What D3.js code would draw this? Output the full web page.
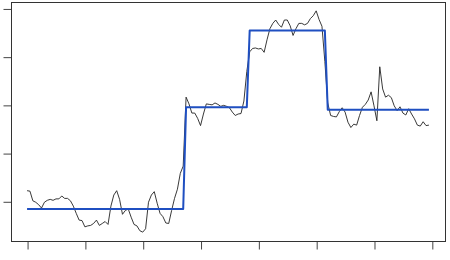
<!DOCTYPE html>
<html>
<head>
<meta charset="utf-8">
<script src="https://cdn.jsdelivr.net/npm/d3@7"></script>
<style>
  body { margin: 0; background: #fff; }
</style>
</head>
<body>
<div id="chart"></div>
<script>
// noisy signal, one value per time step (0..139)
const signal = [
  0.22, 0.21, 0.01, -0.02, -0.07, -0.14, -0.02, 0.02, 0.04, 0.02,
  0.05, 0.05, 0.11, 0.06, 0.06, 0.01, -0.10, -0.25, -0.39, -0.40,
  -0.53, -0.51, -0.50, -0.46, -0.39, -0.50, -0.46, -0.42, -0.48, -0.10,
  0.13, 0.22, 0.04, -0.27, -0.19, -0.16, -0.33, -0.48, -0.51, -0.61,
  -0.64, -0.57, -0.02, 0.13, 0.20, -0.04, -0.25, -0.32, -0.45, -0.46,
  -0.19, 0.06, 0.25, 0.58, 0.73, 2.16, 2.02, 1.83, 1.83, 1.72,
  1.57, 1.81, 2.02, 2.01, 2.00, 2.04, 2.01, 1.97, 1.99, 1.97,
  1.94, 1.85, 1.78, 1.81, 1.82, 2.08, 2.69, 3.10, 3.17, 3.18,
  3.16, 3.17, 3.09, 3.35, 3.58, 3.69, 3.76, 3.67, 3.61, 3.76,
  3.76, 3.64, 3.44, 3.58, 3.69, 3.69, 3.66, 3.69, 3.79, 3.85,
  3.95, 3.77, 3.63, 2.90, 2.04, 1.78, 1.76, 1.75, 1.86, 1.94,
  1.85, 1.64, 1.53, 1.60, 1.58, 1.78, 1.95, 2.01, 2.10, 2.27,
  1.98, 1.67, 2.79, 2.33, 2.16, 2.20, 2.15, 1.98, 1.88, 1.96,
  1.83, 1.79, 1.92, 1.81, 1.71, 1.58, 1.56, 1.65, 1.57, 1.58
];

// piecewise constant fit: first index of each segment and its mean
const segStarts = [0, 55, 77, 104];
const segMeans = [-0.16, 1.95, 3.54, 1.90];

const xTicks = [0, 20, 40, 60, 80, 100, 120, 140];
const yTicks = [0, 1, 2, 3, 4];

const width = 450, height = 260;
// plot region (R style box)
const plot = {left: 11, right: 445, top: 2, bottom: 241};

const svg = d3.select("#chart")
    .append("svg")
        .attr("width", width)
        .attr("height", height);

const n = signal.length;
const fitted = signal.map((v, i) => {
    let s = 0;
    segStarts.forEach((st, k) => { if (i >= st) s = k; });
    return segMeans[s];
});

// R pads each axis range by 4%
const xPad = (n - 1) * 0.04;
const x = d3.scaleLinear()
    .domain([-xPad, n - 1 + xPad])
    .range([plot.left, plot.right]);

const yExt = d3.extent(signal);
const yPad = (yExt[1] - yExt[0]) * 0.04;
const y = d3.scaleLinear()
    .domain([yExt[0] - yPad, yExt[1] + yPad])
    .range([plot.bottom, plot.top]);

// axes (labels fall outside the frame, so none are drawn)
const xAxis = svg.append("g")
    .attr("transform", `translate(0.5, ${plot.bottom + 0.5})`)
    .call(d3.axisBottom(x).tickValues(xTicks).tickSize(8).tickSizeOuter(0).tickFormat(""));

const yAxis = svg.append("g")
    .attr("transform", `translate(${plot.left + 0.5}, 0.5)`)
    .call(d3.axisLeft(y).tickValues(yTicks).tickSize(8).tickSizeOuter(0).tickFormat(""));

[xAxis, yAxis].forEach(g => {
    g.select(".domain").remove();
    g.selectAll("line").attr("stroke", "#444");
});

// box around the plot
svg.append("rect")
    .attr("x", plot.left + 0.5)
    .attr("y", plot.top + 0.5)
    .attr("width", plot.right - plot.left)
    .attr("height", plot.bottom - plot.top)
    .attr("fill", "none")
    .attr("stroke", "#333")
    .attr("stroke-width", 1);

const line = d3.line()
    .x((d, i) => x(i))
    .y(d => y(d));

// raw signal
svg.append("path")
    .datum(signal)
    .attr("fill", "none")
    .attr("stroke", "#222")
    .attr("stroke-width", 0.9)
    .attr("stroke-linejoin", "round")
    .attr("d", line);

// step fit
svg.append("path")
    .datum(fitted)
    .attr("fill", "none")
    .attr("stroke", "#1f4fc1")
    .attr("stroke-width", 2)
    .attr("stroke-linejoin", "round")
    .attr("d", line);
</script>
</body>
</html>
